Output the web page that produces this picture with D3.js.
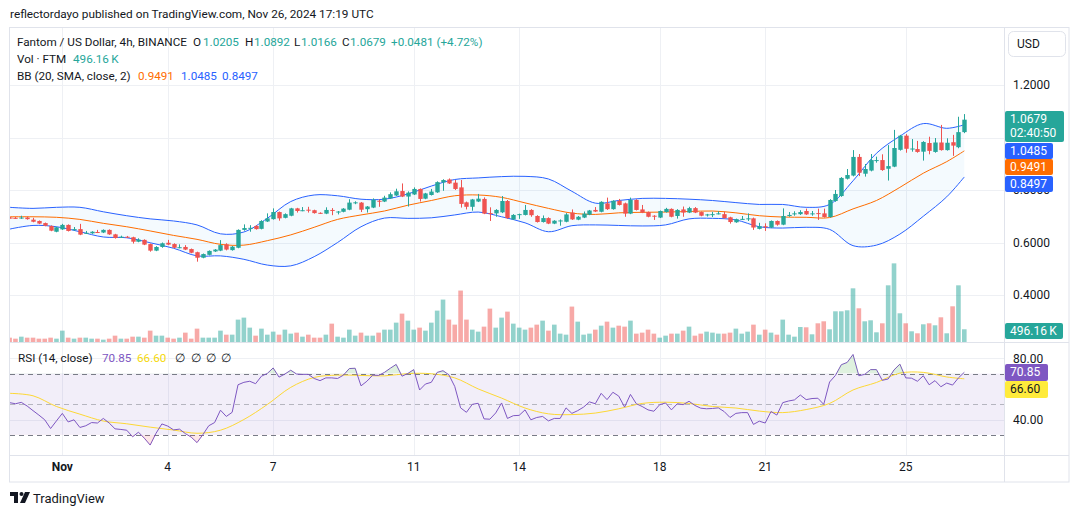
<!DOCTYPE html>
<html>
<head>
<meta charset="utf-8">
<title>Fantom / US Dollar 4h</title>
<style>
  body { margin: 0; background: #ffffff; }
  text { font-family: Roboto, "Liberation Sans", sans-serif; fill: #131722; }
</style>
</head>
<body>
<div id="chart"></div>
<script src="https://d3js.org/d3.v7.min.js"></script>
<script>
// ---- candles (4h, from Oct 30 12:00 UTC) ----
var open  = [.695,.694,.693,.695,.687,.682,.674,.663,.641,.650,.667,.647,.651,.635,.635,.640,.638,.648,.631,.620,
             .622,.620,.603,.610,.594,.569,.583,.599,.594,.580,.583,.575,.563,.542,.553,.566,.569,.593,.571,.580,
             .648,.652,.663,.652,.680,.689,.716,.694,.702,.730,.721,.725,.723,.713,.710,.724,.715,.717,.725,.751,
             .752,.727,.733,.759,.756,.768,.779,.796,.775,.783,.804,.767,.781,.791,.829,.840,.828,.810,.753,.736,
             .756,.766,.712,.711,.715,.758,.688,.706,.705,.724,.701,.678,.693,.672,.682,.679,.714,.687,.695,.706,
             .724,.717,.749,.727,.759,.749,.710,.762,.726,.716,.702,.695,.716,.728,.701,.726,.714,.731,.716,.705,
             .706,.709,.708,.696,.677,.688,.690,.692,.652,.662,.657,.682,.668,.701,.708,.708,.720,.709,.712,.711,
             .697,.758,.777,.843,.855,.926,.862,.874,.912,.914,.881,.889,.953,1.007,.956,.956,.946,.979,.945,.981,
             .952,.982,.963,1.0205];
var high  = [.697,.697,.702,.698,.694,.684,.676,.665,.660,.671,.669,.659,.671,.644,.643,.648,.650,.650,.633,.626,
             .625,.622,.616,.612,.596,.586,.600,.610,.597,.593,.590,.577,.565,.558,.570,.575,.609,.597,.587,.650,
             .669,.666,.666,.685,.711,.730,.718,.711,.732,.732,.735,.736,.725,.715,.734,.731,.720,.731,.765,.757,
             .754,.739,.768,.764,.778,.791,.805,.825,.795,.810,.806,.789,.804,.833,.841,.844,.838,.838,.756,.766,
             .785,.772,.734,.727,.777,.762,.708,.710,.743,.727,.704,.703,.696,.685,.688,.712,.726,.701,.718,.724,
             .735,.757,.771,.761,.766,.752,.771,.765,.743,.718,.704,.722,.732,.730,.727,.737,.736,.735,.718,.709,
             .717,.719,.718,.698,.691,.701,.711,.695,.675,.673,.684,.684,.730,.716,.719,.723,.729,.720,.729,.729,
             .765,.800,.849,.880,.952,.937,.899,.937,.927,.936,.971,1.029,1.010,1.013,.994,.987,.986,1.003,.998,1.048,
             .997,1.010,1.079,1.0892];
var low   = [.691,.690,.690,.687,.677,.670,.662,.643,.639,.648,.642,.645,.628,.633,.633,.636,.636,.629,.615,.618,
             .618,.596,.601,.590,.565,.567,.580,.590,.578,.578,.571,.559,.527,.540,.551,.564,.567,.570,.569,.578,
             .645,.641,.649,.650,.678,.687,.683,.692,.700,.714,.719,.714,.710,.709,.708,.704,.707,.715,.723,.746,
             .716,.714,.731,.736,.754,.766,.777,.773,.737,.781,.756,.765,.779,.789,.797,.823,.800,.733,.726,.721,
             .754,.708,.682,.698,.712,.690,.686,.690,.703,.698,.676,.676,.670,.670,.664,.677,.686,.685,.693,.704,
             .716,.715,.724,.725,.741,.698,.708,.722,.712,.696,.686,.693,.714,.696,.691,.698,.712,.712,.700,.699,
             .697,.707,.691,.672,.675,.686,.682,.648,.650,.644,.655,.664,.666,.698,.702,.705,.705,.702,.686,.695,
             .695,.755,.774,.840,.852,.853,.851,.871,.904,.873,.836,.887,.950,.942,.946,.942,.912,.936,.942,.950,
             .950,.930,.959,1.0166];
var close = [.693,.692,.695,.689,.679,.672,.664,.645,.658,.667,.644,.651,.630,.637,.641,.638,.648,.631,.617,.622,
             .620,.603,.611,.592,.569,.583,.597,.592,.580,.582,.573,.561,.542,.556,.568,.573,.590,.573,.584,.648,
             .655,.656,.651,.682,.692,.716,.692,.708,.730,.720,.723,.723,.712,.711,.724,.722,.718,.729,.752,.753,
             .725,.737,.763,.757,.771,.784,.795,.775,.790,.804,.766,.787,.794,.830,.838,.825,.804,.747,.736,.764,
             .767,.710,.710,.724,.758,.693,.705,.708,.724,.704,.678,.693,.672,.683,.684,.707,.688,.698,.710,.722,
             .718,.755,.727,.759,.743,.710,.762,.724,.714,.698,.700,.720,.728,.698,.724,.714,.731,.714,.702,.707,
             .708,.711,.693,.678,.689,.690,.692,.657,.662,.660,.682,.668,.701,.705,.711,.716,.707,.711,.710,.697,
             .762,.785,.846,.857,.926,.866,.880,.914,.914,.876,.891,.960,1.007,.957,.958,.945,.983,.949,.981,.952,
             .980,.969,1.0205,1.0679];
// volume in thousands of FTM
var volume = [169,130,208,169,169,130,130,169,130,443,169,130,169,169,130,130,91,130,247,130,
              130,208,208,169,443,247,247,169,130,169,365,130,521,169,169,169,443,286,286,873,
              951,560,247,521,286,404,286,482,326,365,208,286,169,169,286,716,208,169,482,247,
              365,247,247,365,482,482,755,1107,833,482,560,443,755,1224,1654,873,677,2006,873,482,
              404,599,1302,560,951,1185,716,560,482,560,677,833,443,677,326,286,1381,794,286,326,
              482,637,794,560,637,599,833,326,365,482,326,169,247,326,326,443,599,247,326,404,
              365,326,326,365,521,326,404,677,286,482,365,286,873,286,208,585,573,300,729,807,
              495,1197,1197,1236,2093,1314,807,846,378,729,2210,3067,1119,729,417,339,690,729,651,963,
              339,1392,2210,496.16];
// ---- Bollinger Bands (20, SMA, close, 2), read every 4th bar ----
var bbIdx   = [0,4,8,12,16,20,24,28,32,36,40,44,48,52,56,60,64,68,72,76,80,84,88,92,96,100,104,108,112,116,120,124,128,132,136,140,144,148,152,156,160,163];
var bbUpper = [.734,.730,.734,.734,.717,.702,.690,.682,.667,.633,.640,.692,.756,.781,.778,.765,.765,.785,.815,.840,.846,.851,.852,.842,.795,.750,.760,.768,.768,.765,.760,.752,.745,.745,.734,.745,.835,.940,1.005,1.053,1.035,1.0485];
var bbMid   = [.698,.698,.696,.688,.673,.660,.644,.627,.612,.593,.590,.607,.629,.658,.688,.705,.720,.742,.760,.778,.781,.772,.751,.730,.712,.707,.713,.715,.716,.718,.720,.713,.702,.697,.696,.695,.728,.760,.810,.864,.908,.9491];
var bbLower = [.651,.665,.660,.641,.621,.618,.599,.578,.549,.549,.536,.514,.511,.546,.600,.660,.693,.692,.694,.705,.716,.698,.675,.641,.664,.667,.665,.663,.667,.690,.692,.686,.660,.655,.658,.650,.588,.590,.632,.700,.774,.8497];
// ---- RSI (14) per bar, and its MA read every 4th bar ----
var rsi = [51.0,50.3,51.2,48.8,45.8,42.9,39.8,34.1,39.1,44.0,38.4,39.8,34.8,35.9,38.0,37.7,40.7,37.7,33.9,33.5,
           33.0,28.7,31.7,27.8,23.3,31.0,37.1,35.7,33.2,33.7,30.8,28.5,24.9,30.1,35.9,38.0,46.1,42.0,44.7,62.7,
           64.3,65.0,63.4,68.3,70.1,73.7,67.7,69.7,72.2,69.7,69.5,69.5,66.8,65.4,67.2,67.2,66.8,69.0,73.3,73.5,
           62.0,65.0,69.0,68.8,70.8,73.5,76.0,68.3,70.1,72.6,59.3,63.2,64.3,70.8,71.9,69.2,61.6,47.6,44.7,49.9,
           50.6,40.4,40.2,44.3,50.8,40.7,42.5,42.7,46.3,39.8,41.3,42.0,39.1,40.7,40.7,47.6,44.0,45.8,48.1,51.5,
           50.3,57.1,53.0,57.8,55.3,48.1,56.4,50.3,48.5,46.3,45.4,49.7,50.8,46.3,50.3,49.7,51.9,49.2,47.4,47.0,
           47.2,47.6,45.2,41.3,44.0,44.5,44.5,36.8,38.9,37.7,45.2,42.9,51.0,52.1,52.8,56.0,53.0,53.7,53.9,49.9,
           64.5,68.8,75.8,77.3,82.5,68.6,69.5,72.6,72.6,65.6,66.5,72.4,76.2,67.2,67.0,65.0,68.6,62.7,65.4,61.4,
           63.8,62.5,67.2,70.85];
var rsiMa = [57.1,55.5,48.5,43.5,39.0,37.2,35.0,33.1,31.0,33.0,40.0,49.8,61.0,67.5,69.0,68.8,68.5,70.0,69.9,67.2,60.0,54.0,47.5,43.7,43.2,44.2,47.0,50.5,51.3,50.5,48.5,47.5,45.5,44.5,46.5,50.5,59.3,64.2,70.3,70.8,67.8,66.6];
// ---- axes ----
var dayTicks  = [1,4,7,11,14,18,21,25];
var dayLabels = ["Nov","4","7","11","14","18","21","25"];
var priceTicks = [0.4,0.6,0.8,1.0,1.2];
var priceLabels = [0.4,0.6,0.8,1.2];   // 1.0000 sits under the last-price tag
var rsiTicks = [40,80];
var rsiLevels = [70,50,30];

var width = 1080, height = 515;
var paneL = 10, paneR = 1004, frameR = 1069;
var priceTop = 28, priceBot = 342, rsiBot = 455, frameBot = 482;
var up = "#26a69a", down = "#ef5350";

var start = Date.UTC(2024, 9, 30, 12);
var times = open.map(function (d, i) { return new Date(start + i * 4 * 3600e3); });

var x = d3.scaleUtc().domain([times[0], times[times.length - 1]]).range([9.6, 964.3]);
var y = d3.scaleLinear().domain([0.4, 1.2]).range([295, 85]);
var yVol = d3.scaleLinear().domain([0, 3900]).range([priceBot, 242]);
var yR = d3.scaleLinear().domain([40, 80]).range([419.5, 358.3]);

var svg = d3.select("#chart").append("svg").attr("width", width).attr("height", height);

svg.append("text").attr("x", 10).attr("y", 14).attr("dy", "0.35em")
   .style("font-size", "11.8px")
   .text("reflectordayo published on TradingView.com, Nov 26, 2024 17:19 UTC");

var defs = svg.append("defs");
defs.append("clipPath").attr("id", "clipPrice").append("rect")
    .attr("x", paneL).attr("y", priceTop).attr("width", paneR - paneL).attr("height", priceBot - priceTop);
defs.append("clipPath").attr("id", "clipRsi").append("rect")
    .attr("x", paneL).attr("y", priceBot).attr("width", paneR - paneL).attr("height", rsiBot - priceBot);
defs.append("clipPath").attr("id", "clipOver").append("rect")
    .attr("x", paneL).attr("y", priceBot).attr("width", paneR - paneL).attr("height", yR(70) - priceBot);
defs.append("clipPath").attr("id", "clipUnder").append("rect")
    .attr("x", paneL).attr("y", yR(30)).attr("width", paneR - paneL).attr("height", rsiBot - yR(30));

// grid
var grid = svg.append("g").attr("stroke", "#eef0f4").attr("stroke-width", 1);
dayTicks.forEach(function (d) {
  var gx = Math.round(x(new Date(Date.UTC(2024, 10, d)))) + 0.5;
  grid.append("line").attr("x1", gx).attr("x2", gx).attr("y1", priceTop).attr("y2", rsiBot);
});
priceTicks.forEach(function (p) {
  var gy = Math.round(y(p)) + 0.5;
  grid.append("line").attr("x1", paneL).attr("x2", paneR).attr("y1", gy).attr("y2", gy);
});
rsiTicks.forEach(function (v) {
  var gy = Math.round(yR(v)) + 0.5;
  grid.append("line").attr("x1", paneL).attr("x2", paneR).attr("y1", gy).attr("y2", gy);
});

// price pane
var price = svg.append("g").attr("clip-path", "url(#clipPrice)");
var bbX = function (d, k) { return x(times[bbIdx[k]]); };
var curve = d3.curveCatmullRom.alpha(0.5);

price.append("path").datum(bbIdx)
  .attr("fill", "rgba(33,150,243,0.05)")
  .attr("d", d3.area().curve(curve).x(bbX)
     .y0(function (d, k) { return y(bbLower[k]); })
     .y1(function (d, k) { return y(bbUpper[k]); }));

// volume
price.append("g").selectAll("rect").data(volume).enter().append("rect")
  .attr("x", function (d, i) { return x(times[i]) - 2.3; })
  .attr("width", 4.6)
  .attr("y", function (d) { return yVol(d); })
  .attr("height", function (d) { return priceBot - yVol(d); })
  .attr("fill", function (d, i) { return close[i] >= open[i] ? "rgba(38,166,154,0.5)" : "rgba(239,83,80,0.5)"; });

[bbUpper, bbLower].forEach(function (arr) {
  price.append("path").datum(bbIdx).attr("fill", "none").attr("stroke", "#2962ff").attr("stroke-width", 1)
    .attr("d", d3.line().curve(curve).x(bbX).y(function (d, k) { return y(arr[k]); }));
});
price.append("path").datum(bbIdx).attr("fill", "none").attr("stroke", "#ff6d00").attr("stroke-width", 1)
  .attr("d", d3.line().curve(curve).x(bbX).y(function (d, k) { return y(bbMid[k]); }));

// candles
var candle = price.append("g").selectAll("g").data(open).enter().append("g")
  .attr("fill", function (d, i) { return close[i] >= open[i] ? up : down; })
  .attr("stroke", function (d, i) { return close[i] >= open[i] ? up : down; });
candle.append("line")
  .attr("x1", function (d, i) { return Math.round(x(times[i])) + 0.5; })
  .attr("x2", function (d, i) { return Math.round(x(times[i])) + 0.5; })
  .attr("y1", function (d, i) { return y(high[i]); })
  .attr("y2", function (d, i) { return y(low[i]); });
candle.append("rect").attr("stroke", "none")
  .attr("x", function (d, i) { return Math.round(x(times[i])) + 0.5 - 2.2; })
  .attr("width", 4.4)
  .attr("y", function (d, i) { return y(Math.max(open[i], close[i])); })
  .attr("height", function (d, i) { return Math.max(1, Math.abs(y(open[i]) - y(close[i]))); });

// legend
function seg(g, xx, yy, txt, col) {
  g.append("text").attr("x", xx).attr("y", yy).attr("dy", "0.35em").style("fill", col || "#131722").text(txt);
}
var leg = svg.append("g").style("font-size", "11.7px");
seg(leg, 17, 42, "Fantom / US Dollar, 4h, BINANCE");
seg(leg, 193, 42, "O"); seg(leg, 203, 42, "1.0205", up);
seg(leg, 245, 42, "H"); seg(leg, 254, 42, "1.0892", up);
seg(leg, 294, 42, "L"); seg(leg, 301, 42, "1.0166", up);
seg(leg, 342, 42, "C"); seg(leg, 350, 42, "1.0679", up);
seg(leg, 391, 42, "+0.0481 (+4.72%)", up);
seg(leg, 17, 59, "Vol \u00b7 FTM"); seg(leg, 73, 59, "496.16\u2009K", up);
seg(leg, 17, 76, "BB (20, SMA, close, 2)");
seg(leg, 138, 76, "0.9491", "#ff6d00"); seg(leg, 181, 76, "1.0485", "#2962ff"); seg(leg, 222, 76, "0.8497", "#2962ff");

// RSI pane
var rsiG = svg.append("g").attr("clip-path", "url(#clipRsi)");
rsiG.append("rect").attr("x", paneL).attr("width", paneR - paneL)
  .attr("y", yR(70)).attr("height", yR(30) - yR(70)).attr("fill", "rgba(126,87,194,0.1)");
rsiLevels.forEach(function (v) {
  rsiG.append("line").attr("x1", paneL).attr("x2", paneR)
    .attr("y1", Math.round(yR(v)) + 0.5).attr("y2", Math.round(yR(v)) + 0.5)
    .attr("stroke", v === 50 ? "rgba(120,123,134,0.5)" : "#787b86")
    .attr("stroke-dasharray", "5,4");
});
var rx = function (d, i) { return x(times[i]); };
svg.append("path").datum(rsi).attr("clip-path", "url(#clipOver)")
  .attr("fill", "rgba(76,175,80,0.18)")
  .attr("d", d3.area().x(rx).y0(yR(70)).y1(function (d) { return yR(d); }));
svg.append("path").datum(rsi).attr("clip-path", "url(#clipUnder)")
  .attr("fill", "rgba(242,54,69,0.12)")
  .attr("d", d3.area().x(rx).y0(yR(30)).y1(function (d) { return yR(d); }));
rsiG.append("path").datum(bbIdx).attr("fill", "none").attr("stroke", "#fdd835").attr("stroke-width", 1)
  .attr("d", d3.line().curve(curve).x(bbX).y(function (d, k) { return yR(rsiMa[k]); }));
rsiG.append("path").datum(rsi).attr("fill", "none").attr("stroke", "#7e57c2").attr("stroke-width", 1)
  .attr("d", d3.line().x(rx).y(function (d) { return yR(d); }));

var rleg = svg.append("g").style("font-size", "11.7px");
seg(rleg, 18, 358, "RSI (14, close)");
seg(rleg, 102, 358, "70.85", "#7e57c2");
seg(rleg, 137, 358, "66.60", "#f5d90a");
[175, 191, 206, 221].forEach(function (xx) { seg(rleg, xx, 358, "\u2205"); });

// frame and separators
var fr = svg.append("g").attr("stroke", "#e0e3eb").attr("fill", "none");
fr.append("rect").attr("x", 9.5).attr("y", 27.5).attr("width", frameR - 9.5).attr("height", frameBot - 27.5);
fr.append("line").attr("x1", paneR + 0.5).attr("x2", paneR + 0.5).attr("y1", 27.5).attr("y2", frameBot);
fr.append("line").attr("x1", 9.5).attr("x2", frameR).attr("y1", priceBot + 0.5).attr("y2", priceBot + 0.5);
fr.append("line").attr("x1", 9.5).attr("x2", frameR).attr("y1", rsiBot + 0.5).attr("y2", rsiBot + 0.5);

// right price axis
var ax = svg.append("g").style("font-size", "12px");
ax.append("rect").attr("x", 1008.5).attr("y", 31.5).attr("width", 57).attr("height", 25).attr("rx", 5)
  .attr("fill", "#fff").attr("stroke", "#e0e3eb");
seg(ax, 1017, 44, "USD");
priceLabels.forEach(function (p) { seg(ax, 1013, y(p), d3.format(".4f")(p)); });
rsiTicks.forEach(function (v) { seg(ax, 1013, yR(v), d3.format(".2f")(v)); });

function tag(yTop, h, w, col, lines, txtCol) {
  ax.append("rect").attr("x", 1005).attr("y", yTop).attr("width", w).attr("height", h).attr("rx", 2).attr("fill", col);
  lines.forEach(function (l, k) {
    ax.append("text").attr("x", 1010).attr("y", yTop + 8 + k * 14).attr("dy", "0.35em")
      .style("fill", txtCol || "#fff").text(l);
  });
}
tag(111, 31, 59, up, ["1.0679", "02:40:50"]);
tag(143, 16, 48, "#2962ff", ["1.0485"]);
tag(159, 16, 48, "#ff6d00", ["0.9491"]);
tag(176, 16, 48, "#2962ff", ["0.8497"]);
tag(323, 16, 58, up, ["496.16\u2009K"]);
tag(364, 17, 43, "#7e57c2", ["70.85"]);
tag(381, 17, 43, "#ffeb3b", ["66.60"], "#131722");

// time axis
var tx = svg.append("g").style("font-size", "12px").attr("text-anchor", "middle");
dayTicks.forEach(function (d, k) {
  tx.append("text").attr("x", x(new Date(Date.UTC(2024, 10, d)))).attr("y", 467).attr("dy", "0.35em")
    .style("font-weight", k === 0 ? "bold" : "normal").text(dayLabels[k]);
});

// TradingView logo
var logo = svg.append("g").attr("fill", "#131722");
logo.append("path").attr("d", "M10,492h8v11h-4v-7h-4z");
logo.append("circle").attr("cx", 21.5).attr("cy", 494).attr("r", 2);
logo.append("path").attr("d", "M25,492h5l-5,11h-5z");
svg.append("text").attr("x", 33).attr("y", 498).attr("dy", "0.35em").style("font-size", "13px").text("TradingView");
</script>
</body>
</html>
